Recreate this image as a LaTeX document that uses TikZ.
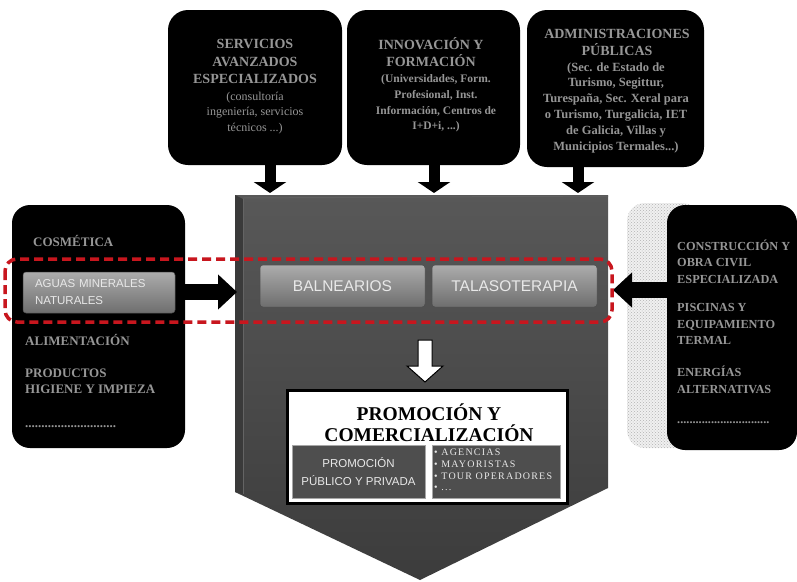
\documentclass[tikz,border=0pt]{standalone}
\usepackage{fontspec}
\setmainfont{Liberation Serif}
\setsansfont{Liberation Sans}
\usetikzlibrary{arrows.meta,patterns}
\definecolor{txtg}{RGB}{150,150,150}
\definecolor{mainA}{RGB}{88,88,88}
\definecolor{mainB}{RGB}{60,60,60}
\definecolor{mainEdge}{RGB}{58,58,58}
\definecolor{redd}{RGB}{200,22,30}
\definecolor{btnT}{RGB}{172,172,172}
\definecolor{btnB}{RGB}{110,110,110}
\definecolor{subbox}{RGB}{78,78,78}
\definecolor{lighttxt}{RGB}{232,232,232}
\begin{document}
\begin{tikzpicture}[x=1pt,y=-1pt,
  blackbox/.style={fill=black, rounded corners=20pt, inner sep=0pt, draw=none},
  hdr/.style={text=txtg, align=center, inner sep=0pt, font=\fontsize{14}{17.5}\selectfont\bfseries},
  sidetxt/.style={text=txtg, align=left, anchor=west, inner sep=0pt, font=\fontsize{13}{16.5}\selectfont\bfseries},
  btn/.style={top color=btnT, bottom color=btnB, rounded corners=3pt, inner sep=0pt, text=lighttxt, draw=btnB!70!black, line width=0.5pt, font=\sffamily\fontsize{15.5}{18}\selectfont},
  blk/.style={line width=11pt, -{Triangle[width=32pt,length=11pt]}},
  sideblk/.style={line width=16pt, -{Triangle[width=34pt,length=19pt]}},
  subbx/.style={fill=subbox, inner sep=0pt, draw=gray!70, line width=0.6pt},
]
\useasboundingbox (0,0) rectangle (797,581);
\fill[white] (0,0) rectangle (797,581);

% top boxes
\node[blackbox, minimum width=174pt, minimum height=155pt] (b1) at (255,87.5) {};
\node[blackbox, minimum width=173pt, minimum height=155pt] (b2) at (433.5,87.5) {};
\node[blackbox, minimum width=177pt, minimum height=157pt] (b3) at (615.5,88.5) {};

% main chevron shape
\shade[top color=mainA, bottom color=mainB] (235,195) -- (608,195) -- (608,488) -- (420,580) -- (235,492) -- cycle;
\fill[mainEdge] (235,195) -- (243,199) -- (243,494) -- (235,492) -- cycle;
\draw[gray!30!mainA, line width=0.8pt] (243,199) -- (243,494);
\draw[gray!20!mainA, line width=1pt] (243,198) -- (608,196);
\coordinate (m1) at (270,193);
\coordinate (m2) at (434,193);
\coordinate (m3) at (578,193);
\coordinate (ml) at (237,292);
\coordinate (mr) at (613,290);

% buttons
\node[btn, minimum width=165pt, minimum height=42pt] (bal) at (342.5,286) {BALNEARIOS};
\node[btn, minimum width=165pt, minimum height=42pt] (tal) at (514.5,286) {TALASOTERAPIA};

% white down arrow
\draw[fill=white, line width=1pt, line join=miter] (418,340) -- (432,340) -- (432,366) -- (443,366) -- (425,382) -- (407,366) -- (418,366) -- cycle;

% promotion box
\node[fill=white, draw=black, line width=3pt, minimum width=280pt, minimum height=113pt, inner sep=0pt] (promo) at (427,446.5) {};
\node[inner sep=0pt, align=center, font=\fontsize{19.5}{21}\selectfont\bfseries] (pt) at (429,422.5) {PROMOCIÓN Y\\COMERCIALIZACIÓN};
\node[subbx, minimum width=133pt, minimum height=53pt, align=center, text=lighttxt, font=\sffamily\fontsize{11.5}{18}\selectfont] (pl) at (358.5,471.5) {PROMOCIÓN\\PÚBLICO Y PRIVADA};
\node[subbx, minimum width=128pt, minimum height=53pt] (pr) at (496,471.5) {};
\node[inner sep=0pt, anchor=west, align=left, text=lighttxt, font=\fontsize{10}{11.8}\selectfont\addfontfeature{LetterSpace=12}] (pb) at (434,470) {• AGENCIAS\\• MAYORISTAS\\• TOUR OPERADORES\\• ...};

% right side boxes
\node[rounded corners=18pt, minimum width=73pt, minimum height=245pt, inner sep=0pt, preaction={fill=gray!12}, pattern=crosshatch dots, pattern color=gray!60] (gh) at (663.5,325.5) {};
\node[blackbox, rounded corners=18pt, minimum width=130pt, minimum height=245pt] (rb) at (732,327.5) {};

% left box
\node[blackbox, rounded corners=18pt, minimum width=173pt, minimum height=243pt] (lb) at (98.5,326.5) {};
\node[btn, minimum width=152pt, minimum height=41pt, text width=128pt, align=left, font=\sffamily\fontsize{11.5}{17}\selectfont] (agu) at (99,292.5) {AGUAS MINERALES\\NATURALES};

% arrows
\draw[blk] (b1.south -| m1) -- (m1);
\draw[blk] (b2.south -| m2) -- (m2);
\draw[blk] (b3.south -| m3) -- (m3);
\draw[sideblk] (lb.east |- ml) -- (ml);
\draw[sideblk] (rb.west |- mr) -- (mr);

% red dashed frame
\draw[redd, line width=3.5pt, dash pattern=on 9pt off 5pt, rounded corners=12pt] (5,259) rectangle (612,322);

% texts in top boxes
\node[hdr] (t1h) at (255,61.5) {SERVICIOS\\AVANZADOS\\ESPECIALIZADOS};
\node[hdr, font=\fontsize{12}{15.5}\selectfont] (t1s) at (255,113) {(consultoría\\ingeniería, servicios\\técnicos ...)};
\node[hdr] (t2h) at (431,52) {INNOVACIÓN Y\\FORMACIÓN};
\node[hdr, font=\fontsize{11.5}{15.7}\selectfont\bfseries] (t2s) at (436,103.5) {(Universidades, Form.\\Profesional, Inst.\\Información, Centros de\\I+D+i, ...)};
\node[hdr] (t3h) at (617,42.5) {ADMINISTRACIONES\\PÚBLICAS};
\node[hdr, font=\fontsize{12.5}{15.8}\selectfont\bfseries] (t3s) at (616,107.5) {(Sec. de Estado de\\Turismo, Segittur,\\Turespaña, Sec. Xeral para\\o Turismo, Turgalicia, IET\\de Galicia, Villas y\\Municipios Termales...)};

% left box texts
\node[sidetxt] (cos) at (33,241) {COSMÉTICA};
\node[sidetxt] (ali) at (25,340) {ALIMENTACIÓN};
\node[sidetxt] (pro) at (25,381.5) {PRODUCTOS\\HIGIENE Y IMPIEZA};
\node[sidetxt] (dl) at (25,427) {............................};

% right box texts
\node[sidetxt, font=\fontsize{12.3}{16.5}\selectfont\bfseries] (c1) at (677,261.7) {CONSTRUCCIÓN Y\\OBRA CIVIL\\ESPECIALIZADA};
\node[sidetxt, font=\fontsize{12.3}{16.5}\selectfont\bfseries] (c2) at (677,324.3) {PISCINAS Y\\EQUIPAMIENTO\\TERMAL};
\node[sidetxt, font=\fontsize{12.3}{16.5}\selectfont\bfseries] (c3) at (677,380) {ENERGÍAS\\ALTERNATIVAS};
\node[sidetxt, font=\fontsize{12.3}{16.5}\selectfont\bfseries] (c4) at (677,423) {..............................};
\end{tikzpicture}
\end{document}
